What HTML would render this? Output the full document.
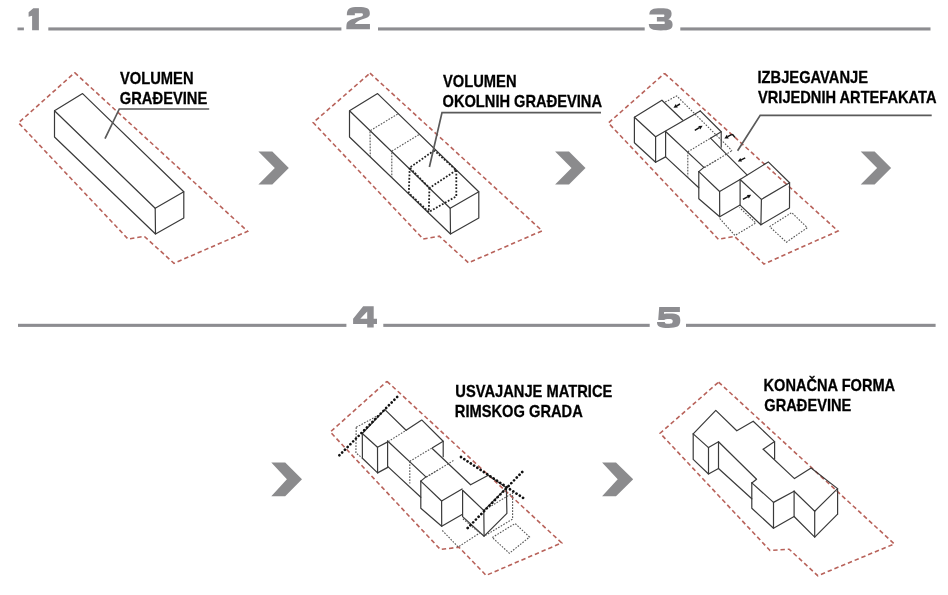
<!DOCTYPE html>
<html><head><meta charset="utf-8">
<style>
html,body{margin:0;padding:0;background:#fff;}
body{width:948px;height:595px;overflow:hidden;position:relative;}
svg{position:absolute;left:0;top:0;}
.t{font-family:"Liberation Sans",sans-serif;font-weight:bold;font-size:17px;fill:#000;stroke:#000;stroke-width:0.3px;}
</style></head><body>
<svg width="948" height="595" viewBox="0 0 948 595">
<!-- headers -->
<g fill="#8d8d91">
  <rect x="17.5" y="27.5" width="6.4" height="2.8"/>
  <path d="M28.6,12.2 L33.3,8.2 L38.9,8.2 L38.9,30.3 L32.1,30.3 L32.1,15.75 L28.6,16.7 Z"/>
  <rect x="48.3" y="27.4" width="293.1" height="3.1"/>
  <rect x="378" y="27.4" width="266.7" height="3.1"/>
  <rect x="680.3" y="27.4" width="250.2" height="3.1"/>
  <path transform="translate(346.35,7.06)" d="M0,22.1 L23.6,22.1 L23.6,16.9 L8.5,16.9 C9.5,15.5 12,13.5 16,12.3 C20.5,11 23.5,10.2 23.5,6.5 C23.5,1.2 20.5,0 11.8,0 C3.5,0 0.5,1 0.5,8.2 L8.5,8.2 L8.5,6.1 L15.2,6.1 C16.2,6.1 16.6,6.6 16.6,7.6 C16.6,8.8 15.5,9.4 12.5,10.2 C6,11.8 2.5,13 0.8,15.5 C0.2,16.5 0,18 0,22.1 Z"/>
  <path transform="translate(648.8,8.3)" d="M0.5,6.3 C0.8,1 4,0 12,0 C20,0 22.8,1.2 22.8,5.5 C22.8,8.5 21.5,10.2 19.5,10.9 C22.3,11.6 23.8,13.2 23.8,16.2 C23.8,21 20.5,22.1 12,22.1 C3.5,22.1 0.2,21 0,15.8 L15.2,15.8 C15.8,15.8 16,15.3 16,14.5 C16,13.6 15.6,13.2 15,13.2 L8.1,13.2 L8.1,8.7 L14.8,8.7 C15.4,8.7 15.6,8.2 15.6,7.5 C15.6,6.8 15.4,6.3 14.8,6.3 Z"/>
  <rect x="18" y="323.8" width="328.4" height="3.1"/>
  <rect x="383.3" y="323.8" width="266.4" height="3.1"/>
  <rect x="686" y="323.8" width="249.6" height="3.1"/>
  <path transform="translate(353.1,306.2)" fill-rule="evenodd" d="M0,12.5 L10.1,0 L20.6,0 L20.6,12.5 L23.9,12.5 L23.9,17.7 L20.6,17.7 L20.6,21.4 L14.1,21.4 L14.1,17.7 L0,17.7 Z M7.2,12.5 L14.1,12.5 L14.1,5.2 Z"/>
  <path transform="translate(657,306.9)" d="M2.2,0 L22.9,0 L22.9,5.2 L7.1,5.2 L7,6.9 C8,6.7 10,6.6 12.5,6.6 C20.5,6.6 23.3,8.2 23.3,13.4 C23.3,19.7 20,21 11.5,21 C3,21 0,19.8 0,15 L7.8,15 C7.8,16.3 8.7,16.8 11.5,16.8 C14.8,16.8 15.7,16.2 15.7,14.1 C15.7,12.7 14.8,12.2 11.5,12.2 C9.5,12.2 8,12.4 7.3,13.2 L1.2,13.2 Z"/>
</g>
<!-- chevrons -->
<g fill="#8b8b8d">
  <path d="M258.4,151.6 L272.3,151.6 L288.8,168 L272.3,184.5 L258.4,184.5 L274.8,168 Z"/>
  <path transform="translate(296.7,0)" d="M258.4,151.6 L272.3,151.6 L288.8,168 L272.3,184.5 L258.4,184.5 L274.8,168 Z"/>
  <path transform="translate(602.3,0)" d="M258.4,151.6 L272.3,151.6 L288.8,168 L272.3,184.5 L258.4,184.5 L274.8,168 Z"/>
  <path d="M271.3,462.4 L285.2,462.4 L302,479.3 L285.2,496.2 L271.3,496.2 L286.9,479.3 Z"/>
  <path d="M602.1,462.4 L616,462.4 L633.2,479.3 L616,496.2 L602.1,496.2 L617.7,479.3 Z"/>
</g>
<!-- labels -->
<defs><filter id="gs" x="0" y="0" width="1" height="1"><feOffset dx="0" dy="0"/></filter></defs><g class="t" filter="url(#gs)">
  <text x="120" y="83.5" textLength="73.5" lengthAdjust="spacingAndGlyphs">VOLUMEN</text>
  <text x="119.8" y="103.8" textLength="87.5" lengthAdjust="spacingAndGlyphs">GRAĐEVINE</text>
  <text x="443" y="86.8" textLength="73.5" lengthAdjust="spacingAndGlyphs">VOLUMEN</text>
  <text x="442.5" y="106.8" textLength="159.5" lengthAdjust="spacingAndGlyphs">OKOLNIH GRAĐEVINA</text>
  <text x="757.5" y="82.8" textLength="110.5" lengthAdjust="spacingAndGlyphs">IZBJEGAVANJE</text>
  <text x="758" y="103.1" textLength="178.5" lengthAdjust="spacingAndGlyphs">VRIJEDNIH ARTEFAKATA</text>
  <text x="455.3" y="396.5" textLength="157" lengthAdjust="spacingAndGlyphs">USVAJANJE MATRICE</text>
  <text x="454.8" y="416.9" textLength="128" lengthAdjust="spacingAndGlyphs">RIMSKOG GRADA</text>
  <text x="763.6" y="390.7" textLength="131.5" lengthAdjust="spacingAndGlyphs">KONAČNA FORMA</text>
  <text x="764.3" y="411" textLength="87" lengthAdjust="spacingAndGlyphs">GRAĐEVINE</text>
</g>
<g fill="none" stroke="#b8625a" stroke-width="1.6" stroke-dasharray="4.4,2.9"><path d="M74.7,72.7 L247.6,231.3 L174.0,263.3 L144.3,236.4 L128.0,239.0 L18.5,122.8 L74.7,72.7"/><path d="M370.0,73.2 L542.1,230.8 L468.5,262.8 L439.3,236.2 L423.2,239.0 L313.2,122.6 L370.0,73.2"/><path d="M664.5,73.4 L838.0,231.0 L764.0,264.0 L734.6,236.4 L718.4,239.3 L608.4,123.0 L664.5,73.4"/><path d="M387.0,381.3 L561.7,542.9 L486.1,575.4 L458.9,547.2 L440.4,549.5 L330.3,432.0 L387.0,381.3"/><path d="M718.6,382.1 L894.3,543.9 L817.8,575.7 L789.1,549.2 L770.0,550.5 L660.1,433.2 L718.6,382.1"/></g>
<g fill="none" stroke="#3a3a3a" stroke-width="1.2" stroke-linejoin="round" stroke-linecap="round"><path d="M82.6,93.6 L54.5,110.8 L155.2,208.3 L183.8,191.8 L82.6,93.6"/><path d="M54.5,110.8 L54.5,137.0 L155.5,234.0 L183.8,218.0 L183.8,191.8"/><path d="M155.2,208.3 L155.5,234.0"/><path d="M377.6,93.6 L349.5,110.8 L450.2,208.3 L478.8,191.8 L377.6,93.6"/><path d="M349.5,110.8 L349.5,137.0 L450.5,234.0 L478.8,218.0 L478.8,191.8"/><path d="M450.2,208.3 L450.5,234.0"/><path d="M700.2,110.9 L721.2,131.8 L721.2,147.2"/><path d="M710.5,138.2 L721.2,131.8"/><path d="M665.6,131.5 L665.6,156.9 L698.8,187.8"/><path d="M665.6,131.5 L703.9,167.4"/><path d="M710.5,138.2 L747.0,174.9"/><path d="M698.8,171.6 L703.9,167.4"/><path d="M698.8,171.6 L719.6,191.5 L740.1,179.5"/><path d="M698.8,171.6 L698.8,198.7 L719.7,216.7 L740.1,205.1"/><path d="M719.6,191.5 L719.7,216.7"/><path d="M661.9,100.3 L634.4,117.2 L655.6,136.7 L700.2,110.9"/><path d="M661.9,100.3 L682.8,120.2"/><path d="M634.4,117.2 L634.4,142.8 L655.6,162.3 L665.6,156.9"/><path d="M655.6,136.7 L655.6,162.3"/><path d="M740.1,179.5 L768.3,161.9 L789.6,182.8 L761.4,199.4 L740.1,179.5"/><path d="M740.1,179.5 L740.1,205.1 L760.9,224.8 L789.5,208.0 L789.6,182.8"/><path d="M761.4,199.4 L760.9,224.8"/><path d="M422.2,420.4 L443.2,441.3 L443.2,456.7"/><path d="M432.5,447.7 L443.2,441.3"/><path d="M387.6,441.0 L387.6,466.4 L420.8,497.3"/><path d="M387.6,441.0 L425.9,476.9"/><path d="M432.5,448.7 L470.6,484.8 L488.3,475.2"/><path d="M420.8,481.1 L425.9,476.9"/><path d="M420.8,481.1 L441.6,501.0 L462.1,489.0"/><path d="M420.8,481.1 L420.8,508.2 L441.7,526.2 L462.1,514.6"/><path d="M441.6,501.0 L441.7,526.2"/><path d="M384.9,409.6 L362.3,433.5 L377.5,447.3 L388.2,441.6"/><path d="M406.1,430.3 L421.7,420.1"/><path d="M384.9,409.6 L406.1,430.3"/><path d="M362.3,433.5 L362.4,458.2 L377.6,472.9 L388.2,467.1"/><path d="M377.5,447.3 L377.6,472.9"/><path d="M488.3,475.2 L506.4,487.8 L483.8,510.5 L462.6,490.3"/><path d="M462.6,490.3 L462.6,516.6 L484.1,536.2 L506.9,513.4 L506.4,487.8"/><path d="M483.8,510.5 L484.1,536.2"/><path d="M693.2,433.9 L715.8,410.4 L736.8,430.8 L753.2,421.2 L774.6,441.6 L774.6,459.0"/><path d="M763.2,449.2 L774.6,441.6"/><path d="M763.2,449.2 L794.5,478.6 L811.1,468.0 L837.6,488.6 L837.6,514.1"/><path d="M693.2,433.9 L708.5,447.6 L718.5,441.8"/><path d="M693.2,433.9 L693.2,459.4 L708.5,474.0 L718.5,468.5"/><path d="M708.5,447.6 L708.5,474.0"/><path d="M718.5,441.8 L718.5,468.5 L751.8,498.8"/><path d="M718.5,441.8 L756.6,479.3 L751.8,482.9"/><path d="M751.8,482.9 L751.8,508.2 L773.5,528.2 L794.1,516.5"/><path d="M751.8,482.9 L773.5,502.4 L794.1,491.2"/><path d="M773.5,502.4 L773.5,528.2"/><path d="M794.1,491.2 L794.1,516.5 L814.7,537.1 L837.6,514.1"/><path d="M794.1,491.2 L814.7,511.2 L837.6,488.6"/><path d="M814.7,511.2 L814.7,537.1"/></g>
<g fill="none" stroke="#555" stroke-width="1.1" stroke-dasharray="1.6,1.4"><path d="M397.6,114.1 L370.0,130.8 L370.3,157.0"/><path d="M418.8,134.7 L391.8,151.2 L391.8,177.6"/><path d="M687.8,151.8 L710.5,138.2"/><path d="M687.8,151.8 L687.8,176.5"/><path d="M704.5,167.6 L732.0,150.7"/><path d="M703.9,167.4 L716.8,160.0"/><path d="M719.7,218.5 L735.0,235.5 L755.8,223.0 L739.5,207.5"/><path d="M769.6,226.6 L791.7,212.6 L807.3,227.7 L786.4,242.2 L769.6,226.6"/><path d="M665.2,102.1 L676.7,95.9 L732.0,150.7"/><path d="M388.2,441.6 L406.1,430.3"/><path d="M409.8,461.3 L432.5,447.7"/><path d="M409.8,461.3 L409.8,483.5"/><path d="M426.5,477.1 L454.0,460.2"/><path d="M425.9,476.9 L438.8,469.5"/><path d="M442.3,530.5 L458.2,547.0 L479.7,533.0 L462.6,518.5"/><path d="M492.3,537.5 L515.1,523.5 L529.5,537.0 L509.4,553.3 L492.3,537.5"/><path d="M356.2,427.3 L380.0,414.5"/><path d="M356.2,427.3 L355.9,452.9 L362.4,458.2"/><path d="M483.8,510.5 L512.6,493.0 L512.6,519.1 L484.1,536.2"/></g>
<g fill="none" stroke="#222" stroke-width="1.8" stroke-dasharray="1.8,1.6"><path d="M434.3,150.4 L409.7,167.7 L429.4,188.0 L456.3,170.3 L434.3,150.4"/><path d="M409.7,167.7 L408.8,193.0 L428.8,212.0 L456.3,196.4 L456.3,170.3"/><path d="M429.4,188.0 L428.8,212.0"/></g>
<g fill="none" stroke="#111" stroke-width="2.7" stroke-linecap="round" stroke-dasharray="0.01,3.9"><path d="M339.4,455.3 L397.6,396.5"/><path d="M461.0,457.0 L524.8,499.0"/><path d="M467.7,528.0 L524.8,469.3"/></g>
<g><path d="M680.0,104.0 L676.8,105.8" stroke="#111" stroke-width="1.5" fill="none"/><path d="M673.5,107.7 L675.8,104.1 L677.8,107.6 Z" fill="#111"/><path d="M694.8,130.3 L699.3,127.6" stroke="#111" stroke-width="1.5" fill="none"/><path d="M702.6,125.7 L700.3,129.4 L698.3,125.9 Z" fill="#111"/><path d="M731.8,134.4 L727.7,136.6" stroke="#111" stroke-width="1.5" fill="none"/><path d="M724.4,138.4 L726.8,134.8 L728.7,138.4 Z" fill="#111"/><path d="M731.8,134.4 L733.2,135 L734.8,137.4" stroke="#111" stroke-width="1.4" fill="none"/><path d="M745.2,157.8 L741.2,159.8" stroke="#111" stroke-width="1.5" fill="none"/><path d="M737.8,161.5 L740.3,158.0 L742.1,161.6 Z" fill="#111"/><path d="M742.9,199.4 L747.9,196.6" stroke="#111" stroke-width="1.5" fill="none"/><path d="M751.2,194.8 L748.8,198.4 L746.9,194.9 Z" fill="#111"/></g>
<g fill="none" stroke="#5a5a5a" stroke-width="1.7"><path d="M105,138.7 L119.3,109 L209.2,109"/><path d="M429.4,167 L442,112.6 L601,112.6"/><path d="M737.6,150.7 L760.2,115.3 L931.7,115.3"/></g>
</svg>
</body></html>
